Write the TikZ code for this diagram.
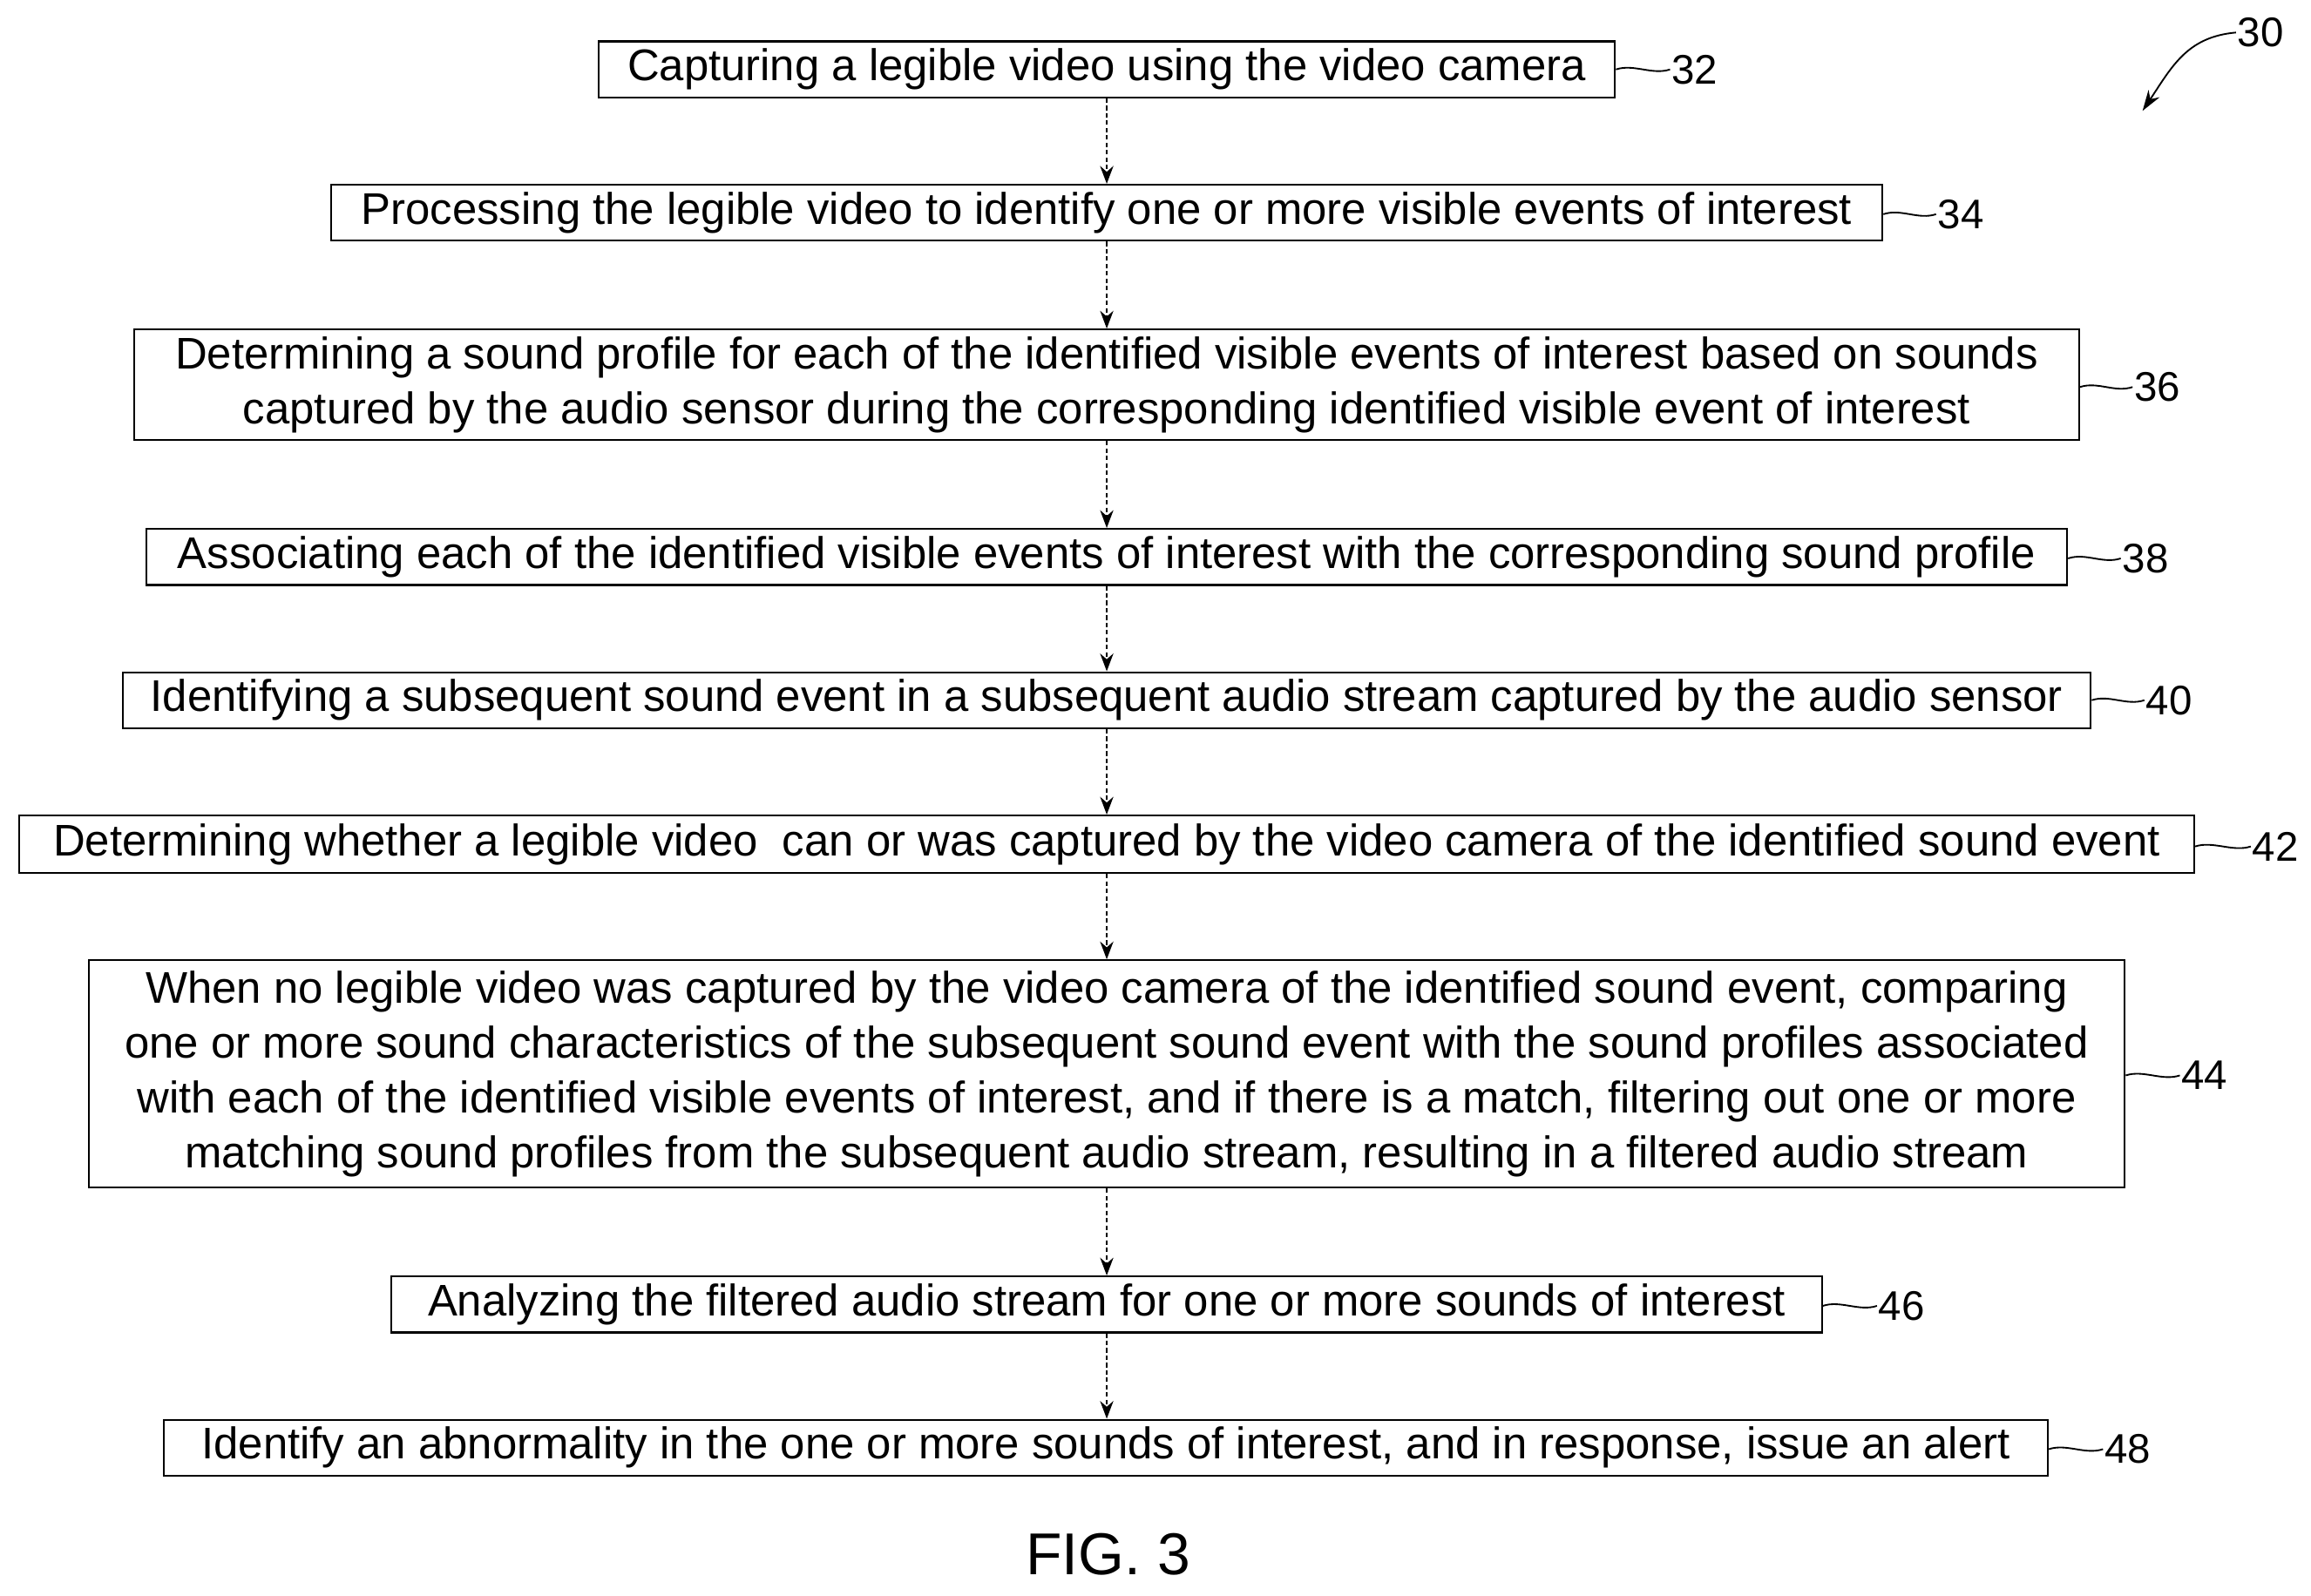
\documentclass[tikz,border=0pt]{standalone}
\usepackage{fontspec}
\setmainfont{Liberation Sans}
\usetikzlibrary{arrows.meta}
\begin{document}
\begin{tikzpicture}[x=1pt,y=-1pt,
  stepbox/.style={draw,line width=1.2pt,inner sep=0pt,align=center,font=\fontsize{30}{37}\selectfont},
  conn/.style={line width=1.1pt,densely dashed,-{Stealth[length=12pt,width=9pt]}},
  lead/.style={line width=1.1pt},
  lbl/.style={font=\fontsize{28}{30}\selectfont,inner sep=1pt}]
\useasboundingbox (0,0) rectangle (1564,1080);
\newcommand\bx[6]{\node[stepbox,minimum width=#3-#2,minimum height=#5-#4] (#1) at ({(#2+#3)/2},{(#4+#5)/2}) {#6};}
\bx{b32}{405}{1093}{28}{66}{Capturing a legible video using the video camera}
\bx{b34}{224}{1274}{125}{163}{Processing the legible video to identify one or more visible events of interest}
\bx{b36}{91}{1407}{223}{298}{Determining a sound profile for each of the identified visible events of interest based on sounds\\captured by the audio sensor during the corresponding identified visible event of interest}
\bx{b38}{99}{1399}{358}{396}{Associating each of the identified visible events of interest with the corresponding sound profile}
\bx{b40}{83}{1415}{455}{493}{Identifying a subsequent sound event in a subsequent audio stream captured by the audio sensor}
\bx{b42}{13}{1485}{552}{591}{Determining whether a legible video\ \ can or was captured by the video camera of the identified sound event}
\bx{b44}{60}{1438}{650}{804}{When no legible video was captured by the video camera of the identified sound event, comparing\\one or more sound characteristics of the subsequent sound event with the sound profiles associated\\with each of the identified visible events of interest, and if there is a match, filtering out one or more\\matching sound profiles from the subsequent audio stream, resulting in a filtered audio stream}
\bx{b46}{265}{1233}{864}{902}{Analyzing the filtered audio stream for one or more sounds of interest}
\bx{b48}{111}{1386}{961}{999}{Identify an abnormality in the one or more sounds of interest, and in response, issue an alert}
\foreach \a/\b in {b32/b34,b34/b36,b36/b38,b38/b40,b40/b42,b42/b44,b44/b46,b46/b48}
  \draw[conn] (\a.south -| 749,0) -- (\b.north -| 749,0);
\foreach \n/\x/\y in {32/1147/47,34/1327/145,36/1460/262,38/1452/378,40/1468/474,42/1540/573,44/1492/728,46/1287/884,48/1440/981}{
  \node[lbl] (l\n) at (\x,\y) {\n};
  \draw[lead] (b\n.east |- 0,\y) .. controls +(12,-4) and +(-12,4) .. (l\n.west);
}
\node[lbl] (l30) at (1530,22) {30};
\draw[line width=1.1pt,-{Stealth[length=14pt,width=9pt]}] (l30.west) .. controls (1480,25) and (1470,45) .. (1450,75);
\node[font=\fontsize{40}{44}\selectfont] (fig) at (750,1052) {FIG. 3};
\end{tikzpicture}
\end{document}
